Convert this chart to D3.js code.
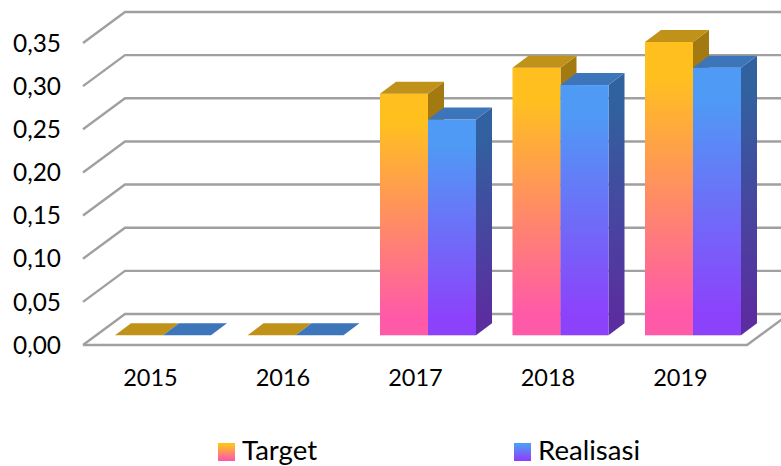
<!DOCTYPE html>
<html><head><meta charset="utf-8">
<style>html,body{margin:0;padding:0;background:#fff}svg{display:block}text{font-family:Lato,sans-serif;fill:#000}</style>
<script src="https://cdn.jsdelivr.net/npm/d3@7/dist/d3.min.js"></script>
</head><body><div id="c"></div>
<script>
const categories=["2015","2016","2017","2018","2019"];
const seriesNames=["Target","Realisasi"];
const target=[0,0,0.28,0.31,0.34];
const realisasi=[0,0,0.25,0.29,0.31];
const tickValues=[0,0.05,0.10,0.15,0.20,0.25,0.30,0.35];

const W=781,H=466;
const svg=d3.select("#c").append("svg").attr("width",W).attr("height",H);
const defs=svg.append("defs");
function grad(id,a,b){const g=defs.append("linearGradient").attr("id",id).attr("x1",0).attr("y1",0).attr("x2",0).attr("y2",1);
 g.append("stop").attr("offset","0").attr("stop-color",a);
 g.append("stop").attr("offset","0.12").attr("stop-color",a);
 g.append("stop").attr("offset","0.92").attr("stop-color",b);
 g.append("stop").attr("offset","1").attr("stop-color",b);}
grad("g0","#ffc01f","#ff5aa8");grad("g1","#4f9af5","#8c42fb");
grad("s1","#31619f","#5a2e9f");grad("s0","#a37a12","#a37a12");

// scales
const x=d3.scaleBand().domain(categories).range([83,745.5]);
const inner=d3.scaleBand().domain(seriesNames).range([32,128]);
const yFront=d3.scaleLinear().domain([0,0.35]).range([345,43]);
const yBar=d3.scaleLinear().domain([0,0.35]).range([335.3,33.3]);
const wallDx=42,wallDy=-31,barDx=16,barDy=-12;

// gridlines
const grid=svg.append("g").attr("fill","none").attr("stroke","#a0a0a0").attr("stroke-width",2.4);
tickValues.forEach(t=>{
 const y=yFront(t);
 grid.append("path").attr("d",d3.line()([[83,y],[83+wallDx,y+wallDy],[747+wallDx,y+wallDy]]));
});
grid.append("path").attr("d",d3.line()([[83,345],[747,345],[747+wallDx,345+wallDy]]));

// bars
const vals=[target,realisasi];
const topC=["#c0921a","#3d75bb"];
const order=[];
categories.forEach((c,i)=>seriesNames.forEach((s,k)=>order.push({c,i,k,v:vals[k][i]})));
const bars=svg.append("g");
order.forEach(d=>{
 const xl=x(d.c)+inner(seriesNames[d.k]),xr=xl+inner.bandwidth();
 const y0=yBar(0),y1=yBar(d.v);
 const g=bars.append("g");
 const P=pts=>d3.line()(pts)+"Z";
 if(d.v>0){
  g.append("path").attr("fill",`url(#s${d.k})`).attr("d",P([[xr,y1],[xr+barDx,y1+barDy],[xr+barDx,y0+barDy],[xr,y0]]));
  g.append("rect").attr("x",xl).attr("y",y1).attr("width",xr-xl).attr("height",y0-y1).attr("fill",`url(#g${d.k})`);
 }
 g.append("path").attr("fill",topC[d.k]).attr("d",P([[xl,y1],[xl+barDx,y1+barDy],[xr+barDx,y1+barDy],[xr,y1]]));
});

// y labels
svg.append("g").selectAll("text").data(tickValues).join("text")
 .attr("x",61).attr("y",d=>yFront(d)).attr("dy","0.36em").attr("text-anchor","end")
 .attr("font-size",24.4).text(d=>d3.format(".2f")(d).replace(".",","));
// x labels
svg.append("g").selectAll("text").data(categories).join("text")
 .attr("x",d=>x(d)+67.5).attr("y",386).attr("text-anchor","middle")
 .attr("font-size",23.5).text(d=>d);
// legend
const legX=d3.scaleOrdinal().domain(seriesNames).range([218,514]);
const leg=svg.append("g").selectAll("g").data(seriesNames).join("g").attr("transform",d=>`translate(${legX(d)},443)`);
leg.append("rect").attr("width",17).attr("height",18).attr("fill",(d,i)=>`url(#g${i})`);
leg.append("text").attr("x",24).attr("y",17).attr("font-size",27.6).text(d=>d);
</script></body></html>
